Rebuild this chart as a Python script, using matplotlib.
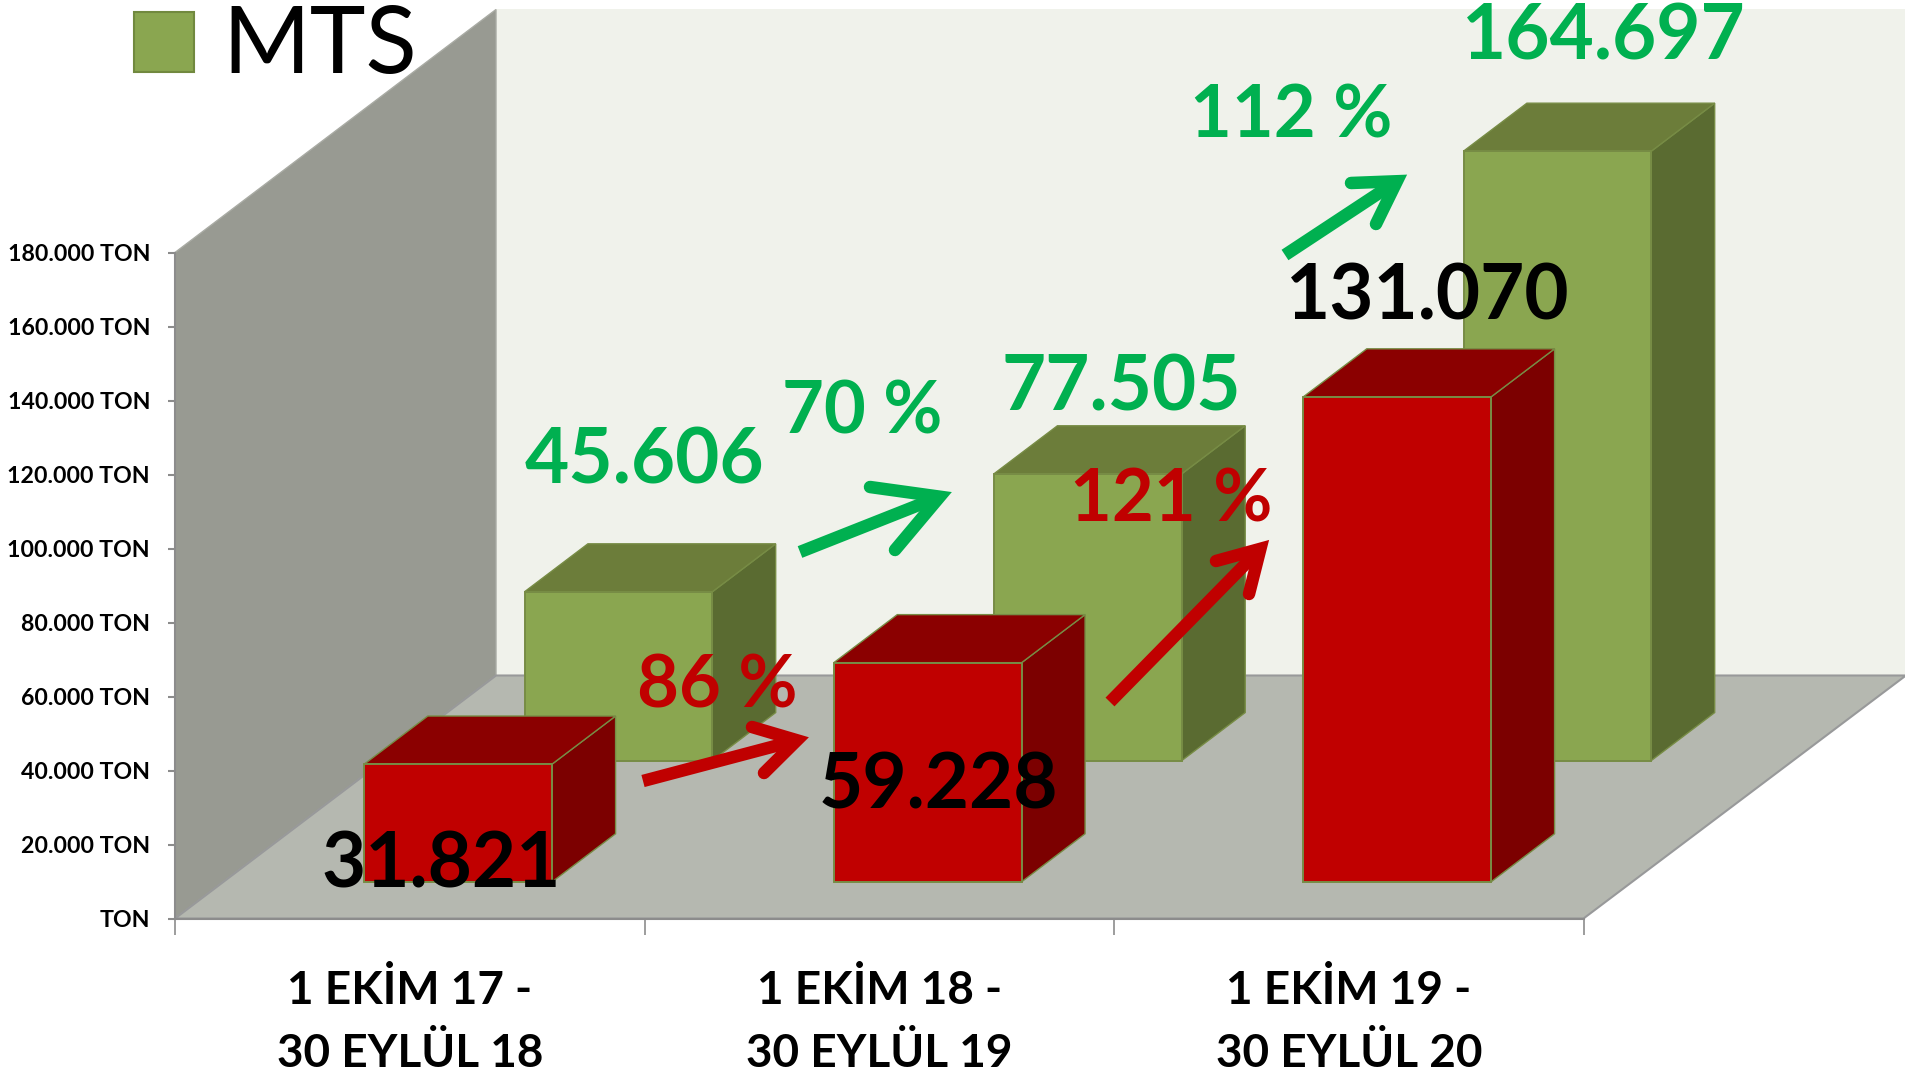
import matplotlib
matplotlib.use("Agg")
import matplotlib.pyplot as plt
import numpy as np
from matplotlib.lines import Line2D
from matplotlib.patches import Polygon, Rectangle
from matplotlib.transforms import IdentityTransform

# chart data
periods = ["1 EKİM 17 -\n30 EYLÜL 18", "1 EKİM 18 -\n30 EYLÜL 19", "1 EKİM 19 -\n30 EYLÜL 20"]
mts_values = [45606, 77505, 164697]
red_values = [31821, 59228, 131070]
mts_growth = ["70 %", "112 %"]
red_growth = ["86 %", "121 %"]
y_ticks = [0, 20000, 40000, 60000, 80000, 100000, 120000, 140000, 160000, 180000]
y_labels = ["TON", "20.000 TON", "40.000 TON", "60.000 TON", "80.000 TON", "100.000 TON",
            "120.000 TON", "140.000 TON", "160.000 TON", "180.000 TON"]

W, H = 1905, 1077
FONT = "Lato"

GREEN = ("#8AA650", "#6C7D3A", "#5A6B31")
RED = ("#C00000", "#8B0000", "#7C0000")
GREEN_TXT = "#00B050"
RED_TXT = "#C00000"
EDGE = "#778C45"

# how far one unit of depth moves on the screen
DEPTH_X = 321 / 469.5
DEPTH_Y = 243 / 0.0037


def proj(cat, value, depth):
    return (cat + depth * DEPTH_X, value + depth * DEPTH_Y)


def face(ax, pts, fc, ec, lw=1.0, z=1):
    ax.add_patch(Polygon(pts, closed=True, facecolor=fc, edgecolor=ec, linewidth=lw, zorder=z, clip_on=False))


def draw_box(ax, cat, value, d0, d1, cols, z):
    x0, x1 = cat + 0.3, cat + 0.7
    # side, top, front
    face(ax, [proj(x1, 0, d0), proj(x1, 0, d1), proj(x1, value, d1), proj(x1, value, d0)], cols[2], EDGE, z=z)
    face(ax, [proj(x0, value, d0), proj(x1, value, d0), proj(x1, value, d1), proj(x0, value, d1)], cols[1], EDGE, z=z)
    face(ax, [proj(x0, 0, d0), proj(x1, 0, d0), proj(x1, value, d0), proj(x0, value, d0)], cols[0], EDGE, lw=1.4, z=z)


def label(fig, x, y, txt, color, size, weight="bold"):
    fig.text(x / W, 1 - y / H, txt, color=color, fontsize=size, fontweight=weight, family=FONT,
             ha="center", va="center_baseline", zorder=20)


def arrow(fig, start, tip, end1, end2, color, lw=9):
    # points come in image pixels (y down), flip them for the figure
    start, tip, end1, end2 = [np.array([p[0], H - p[1]], float) for p in (start, tip, end1, end2)]
    u1 = (end1 - tip) / np.linalg.norm(end1 - tip)
    u2 = (end2 - tip) / np.linalg.norm(end2 - tip)
    half = np.arccos(np.dot(u1, u2)) / 2
    mid = (u1 + u2) / np.linalg.norm(u1 + u2)
    # miter join sticks out past the vertex, keep the sharp point on the tip
    c = tip + mid * ((lw * 100 / 72) / (2 * np.sin(half)) - 2)
    fig.add_artist(Line2D([start[0], c[0]], [start[1], c[1]], color=color, lw=lw, solid_capstyle="butt",
                          transform=IdentityTransform(), zorder=19))
    fig.add_artist(Line2D([end1[0], c[0], end2[0]], [end1[1], c[1], end2[1]], color=color, lw=lw,
                          solid_capstyle="round", solid_joinstyle="miter",
                          transform=IdentityTransform(), zorder=19))


fig = plt.figure(figsize=(W / 100, H / 100), dpi=100, facecolor="white")
ax = fig.add_axes([175 / W, 1 - 918.5 / H, 1408.5 / W, 666 / H])
ax.patch.set_visible(False)
ax.set_xlim(0, 3)
ax.set_ylim(0, 180000)

# walls and floor
wall = "#8C8C8C"
face(ax, [proj(0, 0, 1), proj(3.003, 0, 1), proj(3.003, 180000, 1), proj(0, 180000, 1)], "#F0F2EB", "#F0F2EB", lw=0, z=0)
face(ax, [proj(0, 0, 0), proj(0, 0, 1), proj(0, 180000, 1), proj(0, 180000, 0)], "#989A92", "#A9ABA4", z=1)
face(ax, [proj(0, 0, 0), proj(3, 0, 0), proj(3.003, 0, 1), proj(0, 0, 1)], "#B5B8B0", "#98999A", lw=1.5, z=1)

# green row behind, red row in front
for i, v in enumerate(mts_values):
    draw_box(ax, i, v, 0.65, 0.8475, GREEN, 3)
for i, v in enumerate(red_values):
    draw_box(ax, i, v, 0.151, 0.3487, RED, 4)

# axes
for s in ["top", "right"]:
    ax.spines[s].set_visible(False)
for s in ["left", "bottom"]:
    ax.spines[s].set_color(wall)
    ax.spines[s].set_linewidth(1.5)
    ax.spines[s].set_zorder(2)
ax.set_yticks(y_ticks, y_labels, family=FONT, fontweight="bold", fontsize=16.7)
ax.tick_params(axis="y", length=5, width=1.5, color=wall, pad=13, labelcolor="black")
ax.set_xticks([0, 1, 2, 3], [])
ax.tick_params(axis="x", which="major", length=11.5, width=1.2, color=wall)
ax.set_xticks([0.5, 1.5, 2.5], periods, minor=True, family=FONT, fontweight="bold", fontsize=33, linespacing=1.62)
ax.tick_params(axis="x", which="minor", length=0, pad=36.5, labelcolor="black")

# legend, only the green series is named
fig.add_artist(Rectangle((134 / W, 1 - 72 / H), 60 / W, 60 / H, transform=fig.transFigure,
                         facecolor=GREEN[0], edgecolor="#71893F", linewidth=1.5))
fig.text(222 / W, 1 - 73 / H, "MTS", color="black", fontsize=68, family=FONT, ha="left", va="baseline")

# value labels
for (x, y), v in zip([(644, 455), (1121, 382), (1604, 31)], mts_values):
    label(fig, x, y, f"{v:,}".replace(",", "."), GREEN_TXT, 55)
for (x, y), v in zip([(441, 859), (938, 780), (1428, 291)], red_values):
    label(fig, x, y, f"{v:,}".replace(",", "."), "black", 55)
for (x, y), s in zip([(862, 407), (1291, 111)], mts_growth):
    label(fig, x, y, s, GREEN_TXT, 52)
for (x, y), s in zip([(717, 680), (1171, 494)], red_growth):
    label(fig, x, y, s, RED_TXT, 52)

# growth arrows
arrow(fig, (800, 552), (952, 492), (870, 487), (895, 550), GREEN_TXT)
arrow(fig, (1285, 255), (1408, 174), (1351, 183), (1376, 224), GREEN_TXT)
arrow(fig, (643, 781), (810, 737), (752, 727), (764, 773), RED_TXT)
arrow(fig, (1110, 702), (1270, 539), (1216, 561), (1249, 594), RED_TXT)

fig.savefig("out.png", dpi=100, facecolor="white")
